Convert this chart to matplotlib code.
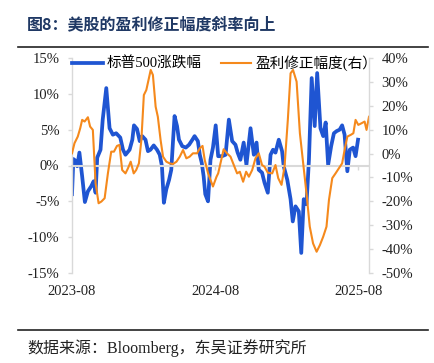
import numpy as np
import pandas as pd
import matplotlib
matplotlib.use('Agg')
import matplotlib.pyplot as plt
import matplotlib.dates as mdates
from matplotlib.lines import Line2D

plt.rcParams['font.family'] = ['Liberation Serif', 'Noto Sans CJK SC']
plt.rcParams['axes.unicode_minus'] = False

START = pd.Timestamp('2023-08-01')

# weeks since 2023-08-01, S&P 500 change (%)
spx_week = [0, 0.5, 1.5, 1.9, 2.7, 3.7, 4.7, 5.8, 7.0, 7.9, 8.6, 9.2, 10.4, 11.2, 12.5,
            13.7, 14.9, 16.1, 17.6, 18.6, 19.5, 21.0, 22.0, 22.6, 23.7, 24.7, 25.6, 26.8,
            27.7, 28.6, 29.8, 31.0, 32.0, 32.8, 33.5, 34.4, 35.4, 36.2, 36.8, 37.4, 38.3,
            39.0, 40.2, 41.5, 42.7, 43.9, 44.7, 45.9, 46.6, 47.3, 48.0, 48.6, 49.6, 50.5,
            51.4, 52.4, 53.3, 54.7, 56.0, 57.2, 58.4, 59.6, 60.4, 61.4, 62.6, 63.6, 65.1,
            66.3, 67.3, 68.1, 69.3, 70.2, 71.4, 72.4, 73.3, 74.2, 75.4, 76.6, 77.2, 78.5,
            79.7, 80.5, 81.5, 82.7, 83.6, 84.5, 85.5, 86.4, 87.4, 88.5, 89.4, 90.6, 91.6,
            92.5, 93.4, 94.5, 95.5, 96.5, 97.6, 98.5, 99.4, 100.4, 101.3, 102.5, 103.4, 104.3]
spx_chg = [-4.0, 0.9, 0.6, -0.1, 1.8, -1.5, -5.1, -3.6, -2.9, -2.2, -3.8, 1.1, 2.2, 6.4, 10.8,
           5.2, 4.3, 4.5, 3.9, 2.2, 1.5, 2.2, 3.6, 5.6, 5.1, 3.4, 4.1, 3.6,
           2.0, 2.2, 2.8, 2.2, 1.5, -0.1, -5.2, -3.3, -2.0, -0.6, 3.2, 6.9, 5.5,
           3.6, 2.7, 2.5, 2.9, 3.6, 4.1, 3.4, 1.5, 0.4, -1.5, -4.0, -5.0, 0.8,
           2.5, 5.6, 1.3, 1.3, 1.5, 6.4, 3.4, 2.9, 1.8, 0.8, 3.2, 0.1, 5.2,
           1.5, 3.2, -0.6, -1.0, -2.4, -3.8, 1.5, 2.2, 1.8, 3.6, 2.0, -0.1, -2.0,
           -4.7, -7.8, -5.7, -6.4, -12.2, -4.7, -5.4, 0.8, 12.2, 5.5, 12.9, 5.2, 4.1,
           6.0, 0.1, 2.7, 4.5, 4.8, 5.0, 5.6, 4.3, -0.8, 2.2, 2.5, 1.3, 3.6]

# weeks since 2023-08-01, earnings revision (%), right axis
rev_week = [0, 0.9, 2.1, 3.0, 3.7, 4.6, 5.8, 6.6, 7.6, 8.6, 9.7, 10.7, 11.9, 13.1, 14.3,
            15.3, 16.4, 17.3, 18.3, 19.5, 20.4, 21.4, 22.5, 23.4, 24.4, 25.3, 26.2, 27.1,
            27.9, 28.7, 29.5, 30.5, 31.3, 32.3, 33.2, 34.4, 35.6, 36.8, 38.1, 39.3, 40.5,
            41.7, 42.9, 44.1, 45.6, 46.6, 47.6, 48.4, 49.6, 51.4, 52.7, 53.3, 54.0, 55.3,
            56.5, 57.8, 59.0, 60.2, 61.2, 62.4, 63.5, 64.5, 65.7, 66.9, 68.1, 69.3, 70.2,
            71.4, 73.0, 74.2, 75.2, 76.4, 77.5, 78.7, 79.7, 80.6, 81.9, 83.1, 84.3, 85.5,
            86.7, 87.9, 89.2, 90.4, 91.6, 92.8, 93.7, 94.9, 96.1, 97.3, 98.5, 99.4, 100.4,
            101.6, 102.6, 103.4, 104.4, 105.6, 106.7, 107.4, 108.3]
rev_chg = [0.1, 4.3, 7.1, 10.6, 14.1, 13.4, 15.2, 11.3, 9.9, -12.4, -20.8, -20.1, -18.7, -8.2, 0.8,
           0.8, 3.2, 3.6, -6.9, -8.3, -6.2, -3.4, -8.3, -6.9, -4.1, 5.7, 24.5, 26.6,
           30.8, 35.0, 32.9, 19.6, 15.4, 5.7, -1.3, -3.4, -4.1, -4.4, -3.4, -1.3, 1.5,
           -2.0, -1.3, 0.1, 0.1, 2.2, 3.2, -2.7, -8.2, -13.8, -9.7, -8.3, -4.8, 1.8,
           0.1, -1.3, -4.8, -8.3, -7.6, -11.8, -7.6, -9.7, -6.9, -2.0, 0.1, -4.8, -5.5,
           -8.0, -8.3, -4.8, -10.3, -13.1, -5.5, 14.1, 33.6, 35.0, 30.1, 8.5, -4.1, -16.6,
           -30.6, -37.6, -41.1, -38.3, -34.8, -30.6, -19.4, -10.3, -8.3, -6.2, -4.1, 1.5, 7.1,
           7.8, 8.5, 14.1, 12.0, 12.7, 13.4, 9.9, 15.4]

x_ticks = ['2023-08-01', '2024-08-01', '2025-08-01']
left_ticks = [-15, -10, -5, 0, 5, 10, 15]
right_ticks = [-50, -40, -30, -20, -10, 0, 10, 20, 30, 40]

BLUE = '#1f55d2'
ORANGE = '#f5891c'
GREY = '#d9d9d9'
TXT = '#222222'

def to_dates(weeks):
    return START + pd.to_timedelta(np.array(weeks) * 7, unit='D')

fig = plt.figure(figsize=(4.34, 3.63), dpi=100)
ax = fig.add_axes([72 / 434, 1 - 273 / 363, 297 / 434, 215 / 363])
ax2 = ax.twinx()

l1, = ax.plot(to_dates(spx_week), spx_chg, color=BLUE, lw=2.7, label='标普500涨跌幅')
l2, = ax2.plot(to_dates(rev_week), rev_chg, color=ORANGE, lw=1.5, label='盈利修正幅度(右）')

ax.set_xlim(START, START + pd.Timedelta(days=108.3 * 7))
ax.set_ylim(-15, 15)
ax2.set_ylim(-50, 40)
ax.set_yticks(left_ticks)
ax.set_yticklabels(['{}%'.format(v) for v in left_ticks])
ax2.set_yticks(right_ticks)
ax2.set_yticklabels(['{}%'.format(v) for v in right_ticks])

ax.set_xticks(pd.to_datetime(x_ticks))
ax.xaxis.set_major_formatter(mdates.DateFormatter('%Y-%m'))

for a in (ax, ax2):
    a.spines['top'].set_visible(False)
    for s in ('left', 'right', 'bottom'):
        a.spines[s].set_color(GREY)
        a.spines[s].set_linewidth(1.0)
ax2.spines['bottom'].set_visible(False)
ax2.spines['left'].set_visible(False)
ax.spines['right'].set_visible(False)
ax.spines['bottom'].set_position(('data', 0))
ax.spines['bottom'].set_linewidth(1.5)

ax.tick_params(axis='y', length=3, width=1, color=GREY, labelsize=10.5, pad=6, labelcolor=TXT)
ax2.tick_params(axis='y', length=3, width=1, color=GREY, labelsize=10.5, pad=6, labelcolor=TXT)
ax.tick_params(axis='x', length=3, width=1, color=GREY, labelsize=10.5, pad=83, labelcolor=TXT)

ax.legend(handles=[l1, l2], ncol=2, loc='upper left', bbox_to_anchor=(-0.02, 1.04),
          frameon=False, fontsize=10.5, handlelength=2.1, columnspacing=1.3,
          handletextpad=0.3, borderaxespad=0)

fig.text(27 / 434, 1 - 24 / 363, '图8：美股的盈利修正幅度斜率向上', fontsize=11.5,
         fontweight='bold', color='#1f3864', va='center', ha='left',
         family=['Noto Sans CJK SC'])
fig.add_artist(Line2D([18 / 434, 428 / 434], [1 - 47 / 363] * 2, color=TXT, lw=1.2))
fig.add_artist(Line2D([18 / 434, 428 / 434], [1 - 330 / 363] * 2, color=TXT, lw=1.2))
fig.text(27 / 434, 1 - 348 / 363, '数据来源：Bloomberg，东吴证券研究所', fontsize=11.5,
         color=TXT, va='center', ha='left')

fig.savefig('out.png', dpi=100)
